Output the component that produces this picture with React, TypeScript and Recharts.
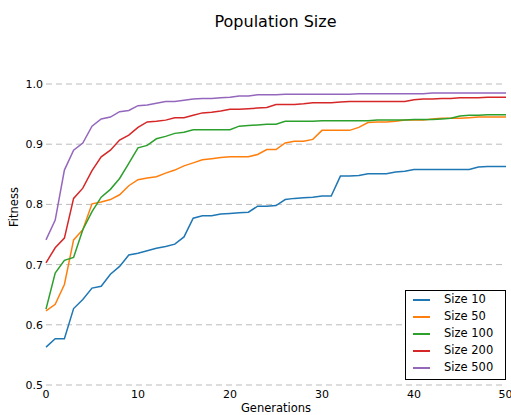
import React from 'react';
import { LineChart, Line, XAxis, YAxis, CartesianGrid, Legend, Label } from 'recharts';

const size10 = [
  0.563, 0.577, 0.577, 0.627, 0.642, 0.661, 0.664, 0.684, 0.697, 0.716, 0.719, 0.723, 0.727, 0.73, 0.734, 0.746,
  0.777, 0.781, 0.781, 0.784, 0.785, 0.786, 0.787, 0.797, 0.797, 0.798, 0.808, 0.81, 0.811, 0.812, 0.814, 0.814,
  0.847, 0.847, 0.848, 0.851, 0.851, 0.851, 0.854, 0.855, 0.858, 0.858, 0.858, 0.858, 0.858, 0.858, 0.858, 0.862,
  0.863, 0.863, 0.863,
];
const size50 = [
  0.623, 0.634, 0.667, 0.741, 0.758, 0.801, 0.804, 0.808, 0.816, 0.831, 0.841, 0.844, 0.846, 0.852, 0.857, 0.864,
  0.869, 0.874, 0.876, 0.878, 0.879, 0.879, 0.879, 0.883, 0.891, 0.891, 0.902, 0.905, 0.905, 0.908, 0.923, 0.923,
  0.923, 0.923, 0.928, 0.936, 0.937, 0.937, 0.938, 0.94, 0.94, 0.94, 0.942, 0.943, 0.943, 0.943, 0.944, 0.945,
  0.945, 0.945, 0.945,
];
const size100 = [
  0.626, 0.686, 0.707, 0.712, 0.758, 0.788, 0.812, 0.825, 0.843, 0.868, 0.894, 0.898, 0.909, 0.913, 0.918, 0.92,
  0.924, 0.924, 0.924, 0.924, 0.924, 0.93, 0.931, 0.932, 0.933, 0.933, 0.938, 0.938, 0.938, 0.938, 0.939, 0.939,
  0.939, 0.939, 0.939, 0.939, 0.94, 0.94, 0.94, 0.94, 0.941, 0.941, 0.941, 0.942, 0.943, 0.947, 0.948, 0.948,
  0.949, 0.949, 0.949,
];
const size200 = [
  0.703, 0.728, 0.744, 0.81, 0.827, 0.856, 0.879, 0.89, 0.907, 0.915, 0.928, 0.937, 0.938, 0.94, 0.944, 0.944,
  0.948, 0.952, 0.953, 0.955, 0.958, 0.958, 0.959, 0.96, 0.961, 0.966, 0.966, 0.966, 0.967, 0.969, 0.969, 0.969,
  0.97, 0.971, 0.971, 0.971, 0.971, 0.971, 0.971, 0.971, 0.974, 0.975, 0.975, 0.976, 0.976, 0.977, 0.977, 0.977,
  0.978, 0.978, 0.978,
];
const size500 = [
  0.741, 0.774, 0.857, 0.89, 0.902, 0.93, 0.942, 0.945, 0.954, 0.956, 0.964, 0.965, 0.968, 0.971, 0.971, 0.973,
  0.975, 0.976, 0.976, 0.977, 0.978, 0.98, 0.98, 0.982, 0.982, 0.982, 0.983, 0.983, 0.983, 0.983, 0.983, 0.983,
  0.983, 0.983, 0.984, 0.984, 0.984, 0.984, 0.984, 0.984, 0.984, 0.984, 0.985, 0.985, 0.985, 0.985, 0.985, 0.985,
  0.985, 0.985, 0.985,
];

const xTicks = [0, 10, 20, 30, 40, 50];
const yTicks = [0.5, 0.6, 0.7, 0.8, 0.9, 1.0];

const series = [
  { key: 'size10', name: 'Size 10', values: size10, color: '#1f77b4' },
  { key: 'size50', name: 'Size 50', values: size50, color: '#ff7f0e' },
  { key: 'size100', name: 'Size 100', values: size100, color: '#2ca02c' },
  { key: 'size200', name: 'Size 200', values: size200, color: '#d62728' },
  { key: 'size500', name: 'Size 500', values: size500, color: '#9467bd' },
];

const data = size10.map((_, i) => {
  const row: any = { gen: i };
  series.forEach((s) => (row[s.key] = s.values[i]));
  return row;
});

const FONT = '"DejaVu Sans", sans-serif';

// legend drawn in series order (recharts sorts its payload by name)
const LegendBox = () => (
  <div
    style={{
      boxSizing: 'border-box',
      width: 101,
      height: 90,
      border: '1px solid #000',
      background: '#fff',
      fontFamily: FONT,
      fontSize: 11.5,
      color: '#000',
    }}
  >
    {series.map((s) => (
      <div key={s.key} style={{ display: 'flex', alignItems: 'center', height: 17 }}>
        <span style={{ display: 'block', width: 17, height: 2, background: s.color, marginLeft: 7 }} />
        <span style={{ marginLeft: 14, lineHeight: '17px' }}>{s.name}</span>
      </div>
    ))}
  </div>
);

export default function App() {
  return (
    <div style={{ position: 'absolute', left: 0, top: 0, width: 511, height: 415, background: '#fff' }}>
      <div
        style={{
          position: 'absolute',
          left: 0,
          top: 13.5,
          width: 551,
          textAlign: 'center',
          fontFamily: FONT,
          fontSize: 16,
          lineHeight: '16px',
          color: '#000',
        }}
      >
        Population Size
      </div>
      <LineChart width={511} height={415} data={data} margin={{ top: 84, right: 5, bottom: 0, left: 0 }}>
        <CartesianGrid vertical={false} stroke="#bbbbbb" strokeDasharray="6 4" />
        <XAxis
          dataKey="gen"
          type="number"
          domain={[0, 50]}
          ticks={xTicks}
          height={30}
          axisLine={false}
          tickLine={false}
          tickSize={0}
          tickMargin={5}
          tick={{ fontSize: 11, fill: '#000', fontFamily: FONT }}
        >
          <Label
            content={() => (
              <text x={276} y={412} textAnchor="middle" fontSize={11.5} fontFamily={FONT} fill="#000">
                Generations
              </text>
            )}
          />
        </XAxis>
        <YAxis
          type="number"
          domain={[0.5, 1.0]}
          ticks={yTicks}
          width={46}
          axisLine={false}
          tickLine={false}
          tickSize={0}
          tickMargin={3}
          tickFormatter={(v: number) => v.toFixed(1)}
          tick={{ fontSize: 11, fill: '#000', fontFamily: FONT }}
        >
          <Label
            content={() => (
              <text
                x={18}
                y={207}
                transform="rotate(-90, 18, 207)"
                textAnchor="middle"
                fontSize={11.5}
                fontFamily={FONT}
                fill="#000"
              >
                Fitness
              </text>
            )}
          />
        </YAxis>
        <Legend
          layout="vertical"
          align="center"
          verticalAlign="middle"
          content={<LegendBox />}
          wrapperStyle={{ position: 'absolute', left: 405, top: 290, width: 101, height: 90 }}
        />
        {series.map((s) => (
          <Line
            key={s.key}
            type="linear"
            dataKey={s.key}
            name={s.name}
            stroke={s.color}
            strokeWidth={1.5}
            dot={false}
            isAnimationActive={false}
          />
        ))}
      </LineChart>
    </div>
  );
}
